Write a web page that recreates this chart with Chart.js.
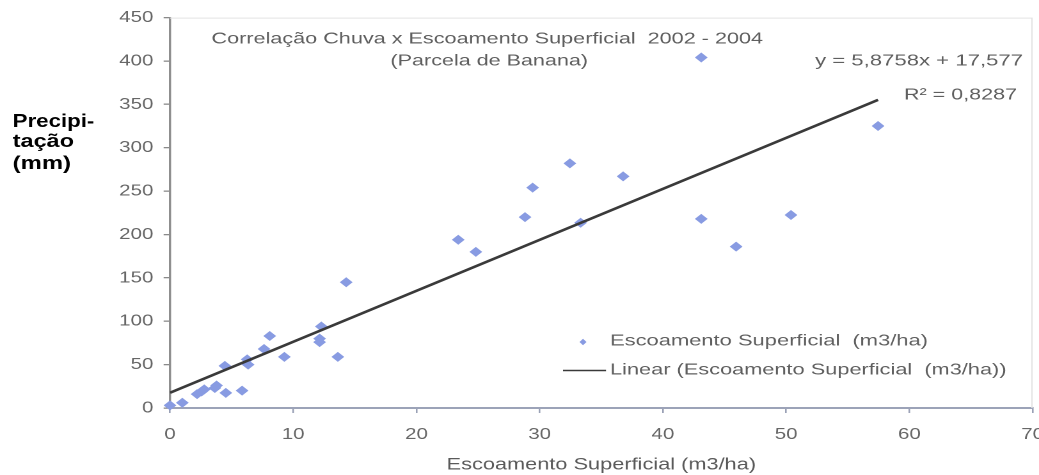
<!DOCTYPE html>
<html><head><meta charset="utf-8">
<script src="https://cdn.jsdelivr.net/npm/chart.js@4.4.1/dist/chart.umd.min.js"></script>
<style>
html,body{margin:0;padding:0;background:#fff;overflow:hidden;width:1039px;height:475px}
#wrap{position:absolute;left:0;top:0;width:812px;height:475px;transform-origin:0 0;transform:scaleX(1.27956)}
canvas{display:block}
</style></head><body>
<div id="wrap"><canvas id="c" width="812" height="475" style="width:812px;height:475px"></canvas></div>
<script>
// ---- data ----
const escoamento = [0, 1.0, 2.2, 2.56, 2.78, 3.64, 3.78, 4.45, 4.53, 5.85, 6.26, 6.34, 7.63, 8.09, 9.28, 12.14, 12.14, 12.28, 13.62, 14.3, 23.39, 24.82, 28.81, 29.43, 32.45, 33.32, 36.77, 43.11, 43.11, 45.94, 50.39, 57.46];
const precipitacao = [3, 6, 16, 19, 21.5, 23, 26, 48.5, 17.5, 20, 56, 50, 68, 83, 59, 80, 76, 94, 59, 145, 194, 180, 220, 254, 282, 213.5, 267, 404, 218, 186, 222.5, 325];
const trendX = [0, 57.46];
const trendY = [17.6, 355.2];
const titleLines = ["Correlação Chuva x Escoamento Superficial  2002 - 2004", "(Parcela de Banana)"];
const equationText = "y = 5,8758x + 17,577";
const r2Text = "R² = 0,8287";
const seriesLabel = "Escoamento Superficial  (m3/ha)";
const trendLabel = "Linear (Escoamento Superficial  (m3/ha))";
const xAxisTitle = "Escoamento Superficial (m3/ha)";
const yAxisTitle = ["Precipi-", "tação", "(mm)"];

const S = 1039 / 812; // horizontal stretch of the reference picture
const FONT = "'Liberation Sans', Arial, sans-serif";
const POINT_COLOR = "rgb(136,155,226)";
const LINE_COLOR = "#3a3a3a";

function fitText(ctx, text, font, color, leftReal, rightReal, y, baseline) {
  ctx.save();
  ctx.font = font;
  ctx.fillStyle = color;
  ctx.textAlign = "left";
  ctx.textBaseline = baseline || "middle";
  const w = ctx.measureText(text).width;
  const target = (rightReal - leftReal) / S;
  ctx.translate(leftReal / S, y);
  ctx.scale(target / w, 1);
  ctx.fillText(text, 0, 0);
  ctx.restore();
}

const decorPlugin = {
  id: "decor",
  beforeDatasetsDraw(chart) {
    const {ctx, chartArea: a} = chart;
    ctx.save();
    ctx.strokeStyle = "#e3e3e3";
    ctx.lineWidth = 1;
    ctx.beginPath();
    ctx.moveTo(a.left, a.top + 0.5);
    ctx.lineTo(a.right - 0.5, a.top + 0.5);
    ctx.lineTo(a.right - 0.5, a.bottom);
    ctx.stroke();
    ctx.restore();
  },
  afterDraw(chart) {
    const ctx = chart.ctx;
    const txt = "#5f5f5f";
    fitText(ctx, titleLines[0], "16px " + FONT, txt, 211.5, 763, 39);
    fitText(ctx, titleLines[1], "16px " + FONT, txt, 390.5, 588, 61);
    fitText(ctx, equationText, "16px " + FONT, txt, 815, 1023, 61);
    fitText(ctx, r2Text, "16px " + FONT, txt, 904, 1017, 95);
    // legend
    const ds0 = chart.data.datasets[0], ds1 = chart.data.datasets[1];
    ctx.save();
    ctx.fillStyle = ds0.backgroundColor;
    const cx = 583 / S, cy = 342, hx = 3.5 / S, hy = 3.3;
    ctx.beginPath();
    ctx.moveTo(cx, cy - hy); ctx.lineTo(cx + hx, cy); ctx.lineTo(cx, cy + hy); ctx.lineTo(cx - hx, cy);
    ctx.closePath(); ctx.fill();
    ctx.strokeStyle = ds1.borderColor;
    ctx.lineWidth = 1.6;
    ctx.beginPath(); ctx.moveTo(563 / S, 370.5); ctx.lineTo(606 / S, 370.5); ctx.stroke();
    ctx.restore();
    fitText(ctx, ds0.label, "16px " + FONT, txt, 610, 928, 341);
    fitText(ctx, ds1.label, "16px " + FONT, txt, 610, 1006.5, 370);
    // y axis title (horizontal, left side)
    const yb = [127, 147, 169];
    const yr = [94.3, 74, 71];
    yAxisTitle.forEach((t, i) => fitText(ctx, t, "bold 18px " + FONT, "#000", 12.7, yr[i], yb[i], "alphabetic"));
  }
};

new Chart(document.getElementById("c"), {
  type: "scatter",
  data: {
    datasets: [
      {
        label: seriesLabel,
        data: escoamento.map((x, i) => ({x, y: precipitacao[i]})),
        backgroundColor: POINT_COLOR,
        borderColor: POINT_COLOR,
        borderWidth: 0,
        pointStyle: "rectRot",
        pointRadius: 5,
        pointHoverRadius: 5,
        clip: false,
        order: 1
      },
      {
        type: "line",
        label: trendLabel,
        data: trendX.map((x, i) => ({x, y: trendY[i]})),
        borderColor: LINE_COLOR,
        backgroundColor: LINE_COLOR,
        borderWidth: 2.5,
        pointRadius: 0,
        showLine: true,
        fill: false,
        tension: 0,
        order: 0
      }
    ]
  },
  options: {
    responsive: false,
    animation: false,
    devicePixelRatio: 2,
    layout: {padding: {top: 16, right: 812 - 1035 / S, left: 0, bottom: 0}},
    plugins: {legend: {display: false}, tooltip: {enabled: false}, title: {display: false}},
    scales: {
      x: {
        type: "linear", position: "bottom", min: 0, max: 70,
        ticks: {stepSize: 10, color: "#676767", font: {family: FONT, size: 16}, padding: 12, maxRotation: 0, autoSkip: false},
        grid: {drawOnChartArea: false, drawTicks: true, tickLength: 5, color: "#9aa1b6", lineWidth: 1.3},
        border: {display: true, color: "#9ca3b8", width: 2},
        title: {display: true, text: xAxisTitle, color: "#5a5a5a", font: {family: FONT, size: 17}, padding: {top: 0, bottom: 0}},
        afterFit(s) { s.height = 67; s.paddingLeft = 0; s.paddingRight = 0; }
      },
      y: {
        type: "linear", min: 0, max: 450,
        ticks: {stepSize: 50, color: "#676767", font: {family: FONT, size: 16}, padding: 8},
        grid: {drawOnChartArea: false, drawTicks: true, tickLength: 5, color: "#8a8a8a", lineWidth: 1.3},
        border: {display: true, color: "#8f8f8f", width: 1.7},
        afterFit(s) { s.width = 170 / S; }
      }
    }
  },
  plugins: [decorPlugin]
});
</script>
</body></html>
